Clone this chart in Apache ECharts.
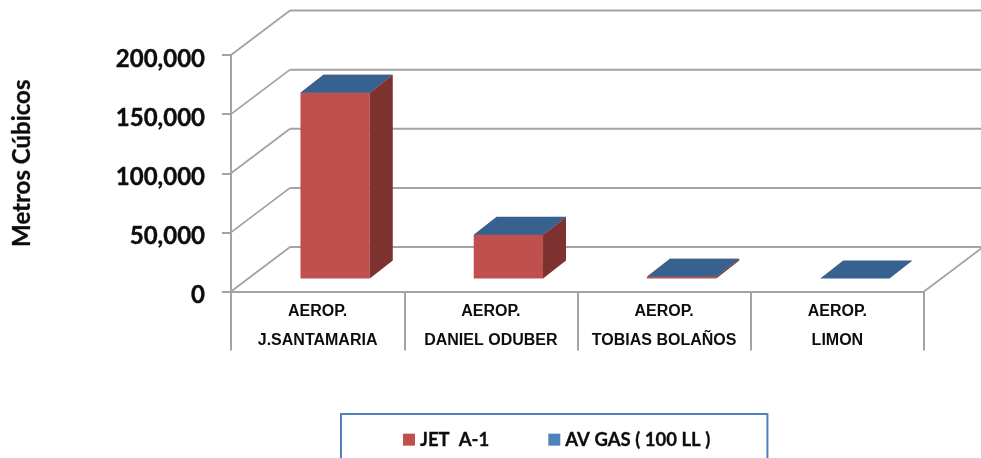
<!DOCTYPE html>
<html>
<head>
<meta charset="utf-8">
<style>html,body{margin:0;padding:0;background:#fff}#c{width:981px;height:458px}</style>
<script src="https://cdn.jsdelivr.net/npm/echarts@6/dist/echarts.min.js"></script>
</head>
<body>
<div id="c"></div>
<script>
const categories = ['AEROP.\nJ.SANTAMARIA', 'AEROP.\nDANIEL ODUBER', 'AEROP.\nTOBIAS BOLAÑOS', 'AEROP.\nLIMON'];
const jetValues = [157000, 36800, 1400, 0];
const avGasValues = [150, 120, 120, 80];
const valueTicks = [0, 50000, 100000, 150000, 200000];

const GRID_COLOR = '#a3a3a3';
const TEXT_COLOR = '#0d0d0d';
const WALL = { dx: 59, dy: 44.5 };
const BAR = { dx: 23, dy: 18, offX: 17.5, offY: 13, ratio: 0.4 };
const JET = { front: '#c0504d', side: '#7e3230', top: '#c0504d', legend: '#c0504d' };
const AV = { front: '#4f81bd', side: '#34608f', top: '#37618f', legend: '#4f81bd' };

function barRenderer(pal) {
  return function (params, api) {
    if (api.value(1) === api.value(2)) return null;
    const i = api.value(0);
    const low = api.coord([i, api.value(1)]);
    const high = api.coord([i, api.value(2)]);
    const w = api.size([1, 0])[0] * BAR.ratio;
    const x0 = low[0] + BAR.offX - w / 2, x1 = x0 + w;
    const yb = low[1] - BAR.offY, yt = high[1] - BAR.offY;
    const poly = (pts, fill) => ({ type: 'polygon', shape: { points: pts }, style: { fill: fill } });
    return {
      type: 'group',
      children: [
        poly([[x0, yt], [x1, yt], [x1, yb], [x0, yb]], pal.front),
        poly([[x1, yt], [x1 + BAR.dx, yt - BAR.dy], [x1 + BAR.dx, yb - BAR.dy], [x1, yb]], pal.side),
        poly([[x0, yt], [x1, yt], [x1 + BAR.dx, yt - BAR.dy], [x0 + BAR.dx, yt - BAR.dy]], pal.top)
      ]
    };
  };
}

function wallRenderer(params, api) {
  const cs = params.coordSys;
  const y = api.coord([0, api.value(1)])[1];
  const left = cs.x, right = cs.x + cs.width;
  const children = [
    { type: 'line', shape: { x1: left, y1: y, x2: left + WALL.dx, y2: y - WALL.dy }, style: { stroke: GRID_COLOR, lineWidth: 1.8 } },
    { type: 'line', shape: { x1: left + WALL.dx, y1: y - WALL.dy, x2: right + WALL.dx, y2: y - WALL.dy }, style: { stroke: GRID_COLOR, lineWidth: 2 } }
  ];
  if (api.value(1) === 0) {
    children.push({ type: 'line', shape: { x1: right, y1: y, x2: right + WALL.dx, y2: y - WALL.dy }, style: { stroke: GRID_COLOR, lineWidth: 1.8 } });
  }
  return { type: 'group', children: children };
}

const chart = echarts.init(document.getElementById('c'), null, { renderer: 'canvas' });
chart.setOption({
  animation: false,
  backgroundColor: '#ffffff',
  grid: { left: 231, right: 57, top: 55, bottom: 166.5 },
  legend: {
    left: 341, top: 414, orient: 'horizontal',
    padding: [16, 57, 30, 62],
    borderColor: '#4f81bd', borderWidth: 2,
    icon: 'rect',
    itemWidth: 12, itemHeight: 12, itemGap: 59,
    selectedMode: false,
    data: ['JET  A-1', 'AV GAS ( 100 LL )'],
    textStyle: { fontFamily: 'Lato', fontWeight: 'bold', fontSize: 18.5, color: TEXT_COLOR, textBorderColor: TEXT_COLOR, textBorderWidth: 0.3 }
  },
  xAxis: {
    type: 'category',
    data: categories,
    axisLine: { lineStyle: { color: GRID_COLOR, width: 2 } },
    axisTick: { show: true, alignWithLabel: false, length: 59, lineStyle: { color: GRID_COLOR, width: 2 } },
    axisLabel: {
      interval: 0, margin: 6,
      fontFamily: 'Liberation Sans', fontWeight: 'bold', fontSize: 16, lineHeight: 29, color: TEXT_COLOR
    }
  },
  yAxis: {
    type: 'value', min: 0, max: 200000, interval: 50000,
    name: 'Metros Cúbicos', nameLocation: 'middle', nameGap: 197, nameRotate: 90,
    nameTextStyle: { fontFamily: 'Lato', fontWeight: 'bold', fontSize: 24, color: TEXT_COLOR, padding: [0, 0, 0, 20], textBorderColor: TEXT_COLOR, textBorderWidth: 0.3 },
    axisLine: { show: true, lineStyle: { color: GRID_COLOR, width: 2 } },
    axisTick: { show: true, length: 9, lineStyle: { color: GRID_COLOR, width: 2 } },
    splitLine: { show: false },
    axisLabel: {
      margin: 26,
      fontFamily: 'Lato', fontWeight: 'bold', fontSize: 24, color: TEXT_COLOR,
      textBorderColor: TEXT_COLOR, textBorderWidth: 0.4,
      verticalAlign: 'top',
      padding: [-8, 0, 0, 0],
      formatter: v => v.toLocaleString('en-US')
    }
  },
  series: [
    {
      name: 'wall', type: 'custom', z: 1, silent: true, clip: false,
      renderItem: wallRenderer,
      data: valueTicks.map(v => [0, v]),
      encode: { x: 0, y: 1 }
    },
    {
      name: 'JET  A-1', type: 'custom', z: 3, clip: false,
      itemStyle: { color: JET.legend },
      renderItem: barRenderer(JET),
      data: categories.map((c, i) => [i, 0, jetValues[i]]),
      encode: { x: 0, y: [1, 2] }
    },
    {
      name: 'AV GAS ( 100 LL )', type: 'custom', z: 4, clip: false,
      itemStyle: { color: AV.legend },
      renderItem: barRenderer(AV),
      data: categories.map((c, i) => [i, jetValues[i], jetValues[i] + avGasValues[i]]),
      encode: { x: 0, y: [1, 2] }
    }
  ]
});
</script>
</body>
</html>
